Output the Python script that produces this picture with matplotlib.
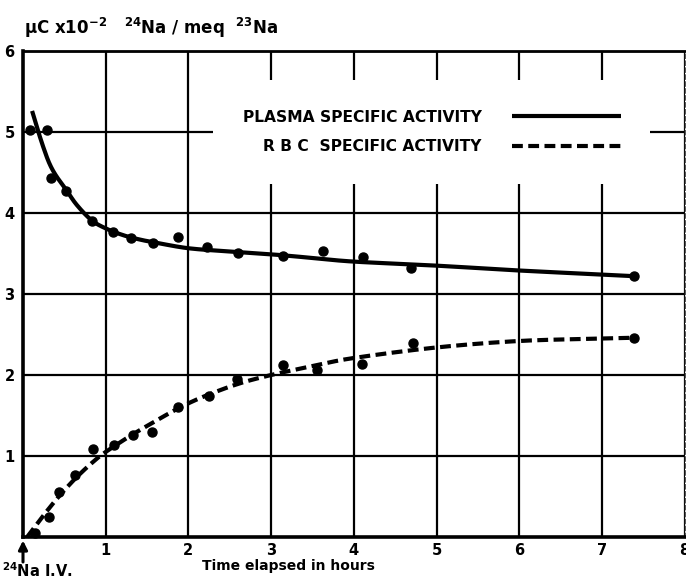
import numpy as np
import matplotlib
matplotlib.use("Agg")
import matplotlib.pyplot as plt

# ---- data ----
plasma_t = [0.08, 0.29, 0.34, 0.52, 0.83, 1.09, 1.31, 1.575, 1.87, 2.23, 2.60, 3.14, 3.63, 4.11, 4.69, 7.39]
plasma_v = [5.02, 5.02, 4.43, 4.27, 3.90, 3.76, 3.69, 3.63, 3.70, 3.58, 3.51, 3.47, 3.53, 3.46, 3.32, 3.22]

rbc_t = [0.14, 0.32, 0.44, 0.63, 0.845, 1.10, 1.33, 1.56, 1.88, 2.25, 2.59, 3.14, 3.56, 4.10, 4.72, 7.39]
rbc_v = [0.05, 0.25, 0.56, 0.77, 1.09, 1.14, 1.26, 1.30, 1.60, 1.74, 1.95, 2.12, 2.06, 2.14, 2.39, 2.46]

# hand-drawn fitted curves, knots
plasma_fit_t = [0.11, 0.18, 0.25, 0.32, 0.40, 0.52, 0.65, 0.83, 1.0, 1.2, 1.4, 1.6, 2.0, 2.5, 3.0, 3.5, 4.0, 5.0, 6.0, 7.0, 7.39]
plasma_fit_v = [5.26, 5.02, 4.80, 4.61, 4.46, 4.29, 4.10, 3.91, 3.81, 3.73, 3.675, 3.635, 3.565, 3.525, 3.49, 3.445, 3.40, 3.35, 3.29, 3.24, 3.22]

rbc_fit_t = [0.05, 0.25, 0.45, 0.65, 0.85, 1.0, 1.3, 1.6, 1.9, 2.2, 2.6, 3.0, 3.5, 4.0, 5.0, 6.0, 7.0, 7.39]
rbc_fit_v = [0.0, 0.27, 0.52, 0.74, 0.93, 1.05, 1.25, 1.43, 1.60, 1.74, 1.89, 2.0, 2.11, 2.21, 2.34, 2.42, 2.45, 2.46]

x_ticks = [1, 2, 3, 4, 5, 6, 7, 8]
y_ticks = [1, 2, 3, 4, 5, 6]
series_labels = ["PLASMA SPECIFIC ACTIVITY", "R B C  SPECIFIC ACTIVITY"]


def smooth(xs, ys, n=24):
    P = np.column_stack([xs, ys]).astype(float)
    P = np.vstack([2 * P[0] - P[1], P, 2 * P[-1] - P[-2]])
    out = []
    t = np.linspace(0, 1, n, endpoint=False)[:, None]
    for i in range(1, len(P) - 2):
        p0, p1, p2, p3 = P[i - 1], P[i], P[i + 1], P[i + 2]
        out.append(0.5 * ((2 * p1) + (-p0 + p2) * t + (2 * p0 - 5 * p1 + 4 * p2 - p3) * t ** 2
                          + (-p0 + 3 * p1 - 3 * p2 + p3) * t ** 3))
    out.append(P[-2][None, :])
    out = np.vstack(out)
    return out[:, 0], out[:, 1]


plt.rcParams['font.family'] = ['DejaVu Sans']
plt.rcParams['font.weight'] = 'bold'
plt.rcParams['mathtext.default'] = 'bf'

W, H = 686, 581
fig = plt.figure(figsize=(W / 100, H / 100), dpi=100)
x0, x1, ytop, ybot = 23, 684.6, 51, 537
ax = fig.add_axes([x0 / W, 1 - ybot / H, (x1 - x0) / W, (ybot - ytop) / H])
ax.set_xlim(0, 8)
ax.set_ylim(0, 6)

ax.set_xticks(x_ticks)
ax.set_yticks(y_ticks)
ax.set_xticklabels([str(v) for v in x_ticks])
ax.set_yticklabels([str(v) for v in y_ticks])
ax.tick_params(length=0, labelsize=10.5, pad=6)
ax.tick_params(axis='x', pad=4)
ax.grid(True, color='black', lw=1.6, zorder=0)
ax.set_axisbelow(True)

for s in ['left', 'bottom']:
    ax.spines[s].set_linewidth(2.6)
ax.spines['top'].set_linewidth(2.0)
ax.spines['right'].set_linewidth(1.0)
ax.spines['right'].set_linestyle((0, (3, 2)))
ax.spines['right'].set_color('#555555')

pfx, pfy = smooth(plasma_fit_t, plasma_fit_v)
rfx, rfy = smooth(rbc_fit_t, rbc_fit_v)
h1, = ax.plot(pfx, pfy, '-', color='black', lw=3.0, solid_capstyle='butt',
              label=series_labels[0], zorder=3)
h2, = ax.plot(rfx, rfy, color='black', lw=3.0, ls=(0, (2.6, 1.3)),
              label=series_labels[1], zorder=3, clip_on=False)

ax.plot(plasma_t, plasma_v, 'o', color='black', ms=6.5, zorder=4, clip_on=False)
ax.plot(rbc_t, rbc_v, 'o', color='black', ms=6.5, zorder=4, clip_on=False)

leg = ax.legend(handles=[h1, h2], loc='upper left',
                bbox_to_anchor=((213 - x0) / (x1 - x0), 1 - (80 - ytop) / (ybot - ytop)),
                borderaxespad=0, markerfirst=False, frameon=True, fancybox=False,
                edgecolor='none', facecolor='white', framealpha=1,
                prop={'weight': 'bold', 'size': 11.2}, handlelength=7.0,
                handletextpad=1.95, labelspacing=0.95, borderpad=1.9)
leg.set_zorder(5)

# injection arrow at t = 0
ax.annotate('', xy=(0, 0), xytext=(0, -18), textcoords='offset points',
            arrowprops=dict(arrowstyle='-|>', color='black', lw=2.2, mutation_scale=13,
                            shrinkA=0, shrinkB=2.5), annotation_clip=False)
fig.text(2 / W, 1 - 571 / H, r"$^{24}$Na I.V.", ha='left', va='center', fontsize=10.5, weight='bold')

ax.text((288 - x0) / (x1 - x0), -(566 - ybot) / (ybot - ytop), "Time elapsed in hours",
        transform=ax.transAxes, ha='center', va='center', fontsize=10, weight='bold')

fig.text(24 / W, 1 - 28 / H, r"$\mu$C x10$^{-2}$   $^{24}$Na / meq  $^{23}$Na", ha='left', va='center',
         fontsize=12, weight='bold')

fig.savefig("out.png", dpi=100)
